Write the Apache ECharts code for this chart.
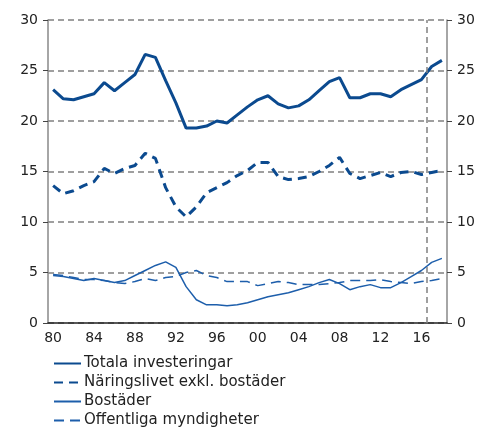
<!DOCTYPE html>
<html>
<head>
<meta charset="utf-8">
<script src="https://cdn.jsdelivr.net/npm/echarts@6/dist/echarts.min.js"></script>
<style>
html, body { margin: 0; padding: 0; background: #fff; }
#container { width: 489px; height: 427px; }
</style>
</head>
<body>
<div id="container"></div>
<script>
let years = [];
for (let y = 1980; y <= 2018; y++) years.push(String(y));

let totala = [23.1, 22.2, 22.1, 22.4, 22.7, 23.8, 23.0, 23.8, 24.6, 26.6,
    26.3, 24.0, 21.8, 19.3, 19.3, 19.5, 20.0, 19.8, 20.6, 21.4,
    22.1, 22.5, 21.7, 21.3, 21.5, 22.1, 23.0, 23.9, 24.3, 22.3,
    22.3, 22.7, 22.7, 22.4, 23.1, 23.6, 24.1, 25.4, 26.0];
let naringsliv = [13.6, 12.8, 13.1, 13.6, 14.0, 15.3, 14.8, 15.3, 15.6, 16.8,
    16.3, 13.4, 11.5, 10.5, 11.5, 12.9, 13.4, 13.9, 14.6, 15.1,
    15.9, 15.9, 14.5, 14.2, 14.3, 14.5, 15.0, 15.6, 16.4, 14.8,
    14.3, 14.6, 14.9, 14.5, 14.9, 15.0, 14.7, 14.9, 15.1];
let bostader = [4.7, 4.6, 4.4, 4.2, 4.4, 4.2, 4.0, 4.2, 4.7, 5.2,
    5.7, 6.05, 5.5, 3.6, 2.3, 1.8, 1.8, 1.7, 1.8, 2.0,
    2.3, 2.6, 2.8, 3.0, 3.3, 3.6, 4.0, 4.3, 3.9, 3.3,
    3.6, 3.8, 3.5, 3.5, 4.0, 4.6, 5.2, 6.0, 6.4];
let offentliga = [4.8, 4.7, 4.5, 4.3, 4.3, 4.2, 4.0, 3.9, 4.1, 4.4,
    4.2, 4.5, 4.6, 5.0, 5.2, 4.7, 4.5, 4.1, 4.1, 4.1,
    3.7, 3.9, 4.1, 4.0, 3.8, 3.8, 3.8, 3.9, 4.0, 4.2,
    4.2, 4.2, 4.3, 4.1, 4.0, 3.9, 4.1, 4.2, 4.4];
let forecastStart = 37; // boundary between 2016 and 2017

let dark = '#0b4a8f';
let light = '#1d5eab';
let gridLine = { color: '#808080', width: 1.5, type: [6, 4] };
let font = 'DejaVu Sans';

let dom = document.getElementById('container');
let chart = echarts.init(dom);
chart.setOption({
    animation: false,
    textStyle: { fontFamily: font },
    grid: { left: 48, right: 42, top: 20, bottom: 104 },
    legend: {
        orient: 'vertical',
        left: 53,
        top: 356,
        height: 80,
        padding: 0,
        itemWidth: 27,
        itemHeight: 14,
        itemGap: 4,
        itemStyle: { opacity: 0 },
        textStyle: { fontFamily: font, fontSize: 15, lineHeight: 15, color: '#222', padding: [0, 0, 0, -2] },
        data: ['Totala investeringar', 'Näringslivet exkl. bostäder', 'Bostäder', 'Offentliga myndigheter']
    },
    xAxis: [{
        type: 'category',
        data: years,
        boundaryGap: true,
        axisLine: { lineStyle: { color: '#222', width: 1.5 } },
        axisTick: { interval: 0, length: 6, lineStyle: { color: '#222' } },
        axisLabel: {
            interval: 3,
            margin: 8,
            fontSize: 14,
            color: '#222',
            formatter: (v) => v.slice(2)
        }
    }, {
        type: 'value',
        min: 0,
        max: years.length,
        show: false
    }],
    yAxis: [{
        type: 'value',
        min: 0, max: 30, interval: 5,
        axisLine: { show: true, lineStyle: { color: '#888', width: 1.5 } },
        axisTick: { show: true, length: 5, lineStyle: { color: '#444' } },
        axisLabel: { fontSize: 14, color: '#222', margin: 10 },
        splitLine: { show: true, lineStyle: gridLine }
    }, {
        type: 'value',
        position: 'right',
        min: 0, max: 30, interval: 5,
        axisLine: { show: true, lineStyle: { color: '#888', width: 1.5 } },
        axisTick: { show: true, length: 5, lineStyle: { color: '#444' } },
        axisLabel: { fontSize: 14, color: '#222', margin: 10 },
        splitLine: { show: false }
    }],
    series: [{
        name: 'Totala investeringar',
        type: 'line',
        data: totala,
        symbol: 'none',
        lineStyle: { color: dark, width: 3 },
        itemStyle: { color: dark }
    }, {
        name: 'Näringslivet exkl. bostäder',
        type: 'line',
        data: naringsliv,
        symbol: 'none',
        lineStyle: { color: dark, width: 3, type: [9, 6] },
        itemStyle: { color: dark }
    }, {
        name: 'Bostäder',
        type: 'line',
        data: bostader,
        symbol: 'none',
        lineStyle: { color: light, width: 1.5 },
        itemStyle: { color: light }
    }, {
        name: 'Offentliga myndigheter',
        type: 'line',
        data: offentliga,
        symbol: 'none',
        lineStyle: { color: light, width: 1.5, type: [10, 6] },
        itemStyle: { color: light }
    }, {
        type: 'line',
        xAxisIndex: 1,
        data: [],
        markLine: {
            silent: true,
            symbol: 'none',
            label: { show: false },
            lineStyle: gridLine,
            data: [{ xAxis: forecastStart }]
        }
    }]
});
</script>
</body>
</html>
